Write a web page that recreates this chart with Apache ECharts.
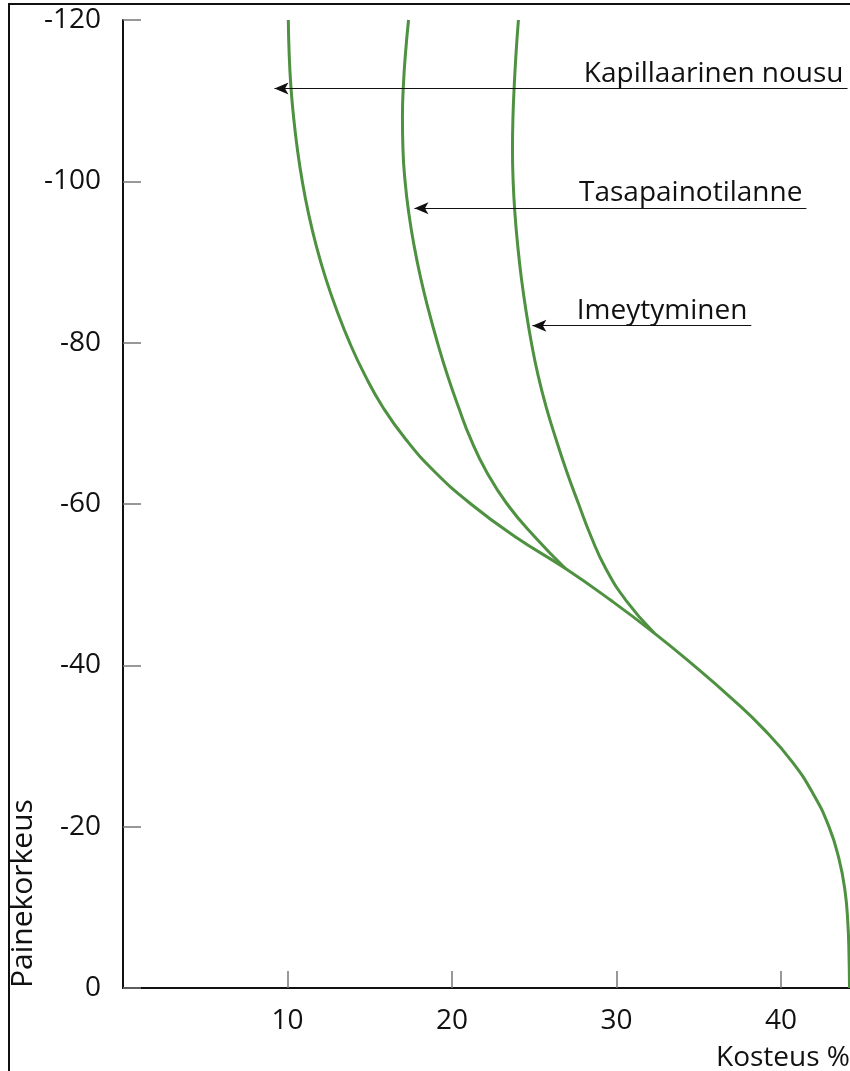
<!DOCTYPE html>
<html>
<head>
<meta charset="utf-8">
<script src="https://cdn.jsdelivr.net/npm/echarts@6/dist/echarts.min.js"></script>
<style>
html,body{margin:0;padding:0;background:#fff;}
#main{width:850px;height:1071px;}
</style>
</head>
<body>
<div id="main"></div>
<script>
// ---- data ----
var xTicks = [10, 20, 30, 40];
var yTicks = [-120, -100, -80, -60, -40, -20, 0];

// upper branch of each curve: [kosteus %, painekorkeus]
var kapillaarinen = [
  [10.05,-120],[10.1,-116],[10.2,-112],[10.37,-108],[10.6,-104],[10.9,-100],
  [11.28,-96],[11.75,-92],[12.32,-88],[13.0,-84],[13.78,-80],[14.7,-76],
  [15.8,-72],[17.2,-68],[18.95,-64],[21.15,-60],[23.8,-56],[26.9,-52]
];
var tasapaino = [
  [17.36,-120],[17.18,-116],[17.05,-112],[16.99,-108],[17.02,-104],[17.15,-100],
  [17.38,-96],[17.7,-92],[18.1,-88],[18.58,-84],[19.12,-80],[19.72,-76],
  [20.4,-72],[21.15,-68],[22.1,-64],[23.35,-60],[25.0,-56],[26.9,-52]
];
var imeytyminen = [
  [24.04,-120],[23.9,-116],[23.79,-112],[23.71,-108],[23.68,-104],[23.72,-100],
  [23.83,-96],[24.0,-92],[24.22,-88],[24.5,-84],[24.83,-80],[25.23,-76],
  [25.73,-72],[26.33,-68],[26.98,-64],[27.7,-60],[28.45,-56],[29.35,-52],
  [30.6,-48],[32.3,-44]
];
// shared lower part
var yhteinen = [
  [26.9,-52],[29.7,-48],[32.3,-44],[34.7,-40],[36.95,-36],[39.0,-32],
  [40.7,-28],[41.98,-24],[42.92,-20],[43.53,-16],[43.9,-12],[44.07,-8],
  [44.14,-4],[44.17,0]
];

var arrowLabels = ['Kapillaarinen nousu', 'Tasapainotilanne', 'Imeytyminen'];
var arrowTips = [[9.21,-111.5],[17.72,-96.65],[24.89,-82.1]];
var arrowEndsX = [44.05, 41.55, 38.2];

var xName = 'Kosteus %';
var yName = 'Painekorkeus';

// ---- chart ----
var green = '#4e9141';
var FONT = '"Open Sans", sans-serif';
var FS = 28;
var chart = echarts.init(document.getElementById('main'), null, {renderer: 'canvas'});

function curve(pts) {
  return {
    type: 'line', data: pts, smooth: 0.5, symbol: 'none', clip: false,
    lineStyle: {color: green, width: 3}, silent: true, z: 3
  };
}

var markData = arrowLabels.map(function (n, i) {
  return [
    {coord: [arrowEndsX[i], arrowTips[i][1]], symbol: 'none'},
    {coord: arrowTips[i], symbol: 'arrow'}
  ];
});

chart.setOption({
  animation: false,
  grid: {left: 123, top: 20, right: 0, bottom: 83, containLabel: false},
  xAxis: {
    type: 'value', min: 0, max: 44.2, interval: 10,
    axisLine: {show: true, lineStyle: {color: '#111', width: 2}},
    axisTick: {show: true, inside: true, length: 17, lineStyle: {color: '#777', width: 1.5}},
    axisLabel: {
      color: '#111', fontSize: FS, fontFamily: FONT, margin: 19,
      showMinLabel: false, showMaxLabel: false,
      formatter: function (v) { return xTicks.indexOf(v) >= 0 ? String(v) : ''; }
    },
    splitLine: {show: false}
  },
  yAxis: {
    type: 'value', min: -120, max: 0, interval: 20, inverse: true,
    axisLine: {show: true, onZero: false, lineStyle: {color: '#111', width: 2}},
    axisTick: {show: true, inside: true, length: 18, lineStyle: {color: '#777', width: 1.5}},
    axisLabel: {
      color: '#111', fontSize: FS, fontFamily: FONT, margin: 22,
      formatter: function (v) { return yTicks.indexOf(v) >= 0 ? String(v) : ''; }
    },
    splitLine: {show: false}
  },
  series: [
    curve(kapillaarinen.concat(yhteinen.slice(1))),
    curve(tasapaino),
    curve(imeytyminen),
    {
      type: 'line', data: [], silent: true,
      markLine: {
        silent: true, animation: false,
        symbolSize: [9, 14],
        label: {show: false},
        lineStyle: {color: '#111', width: 1.2, type: 'solid'},
        data: markData
      }
    }
  ]
});

var g = [
  {type: 'rect', shape: {x: 9, y: 4, width: 1200, height: 1400}, style: {fill: 'none', stroke: '#111', lineWidth: 2}, z: 10, silent: true}
];
arrowLabels.forEach(function (n, i) {
  var p = chart.convertToPixel({gridIndex: 0}, [arrowEndsX[i], arrowTips[i][1]]);
  g.push({type: 'text', x: p[0] - 4, y: p[1] - 1, silent: true,
    style: {text: n, fill: '#111', font: FS + 'px ' + FONT, textAlign: 'right', textVerticalAlign: 'bottom'}});
});
var pBottom = chart.convertToPixel({gridIndex: 0}, [44.2, 0]);
g.push({type: 'text', x: 850, y: 1072, silent: true,
  style: {text: xName, fill: '#111', font: FS + 'px ' + FONT, textAlign: 'right', textVerticalAlign: 'bottom'}});
g.push({type: 'text', x: 23, y: pBottom[1], rotation: Math.PI / 2, silent: true,
  style: {text: yName, fill: '#111', font: '30px ' + FONT, textAlign: 'left', textVerticalAlign: 'middle'}});
chart.setOption({graphic: g});
</script>
</body>
</html>
